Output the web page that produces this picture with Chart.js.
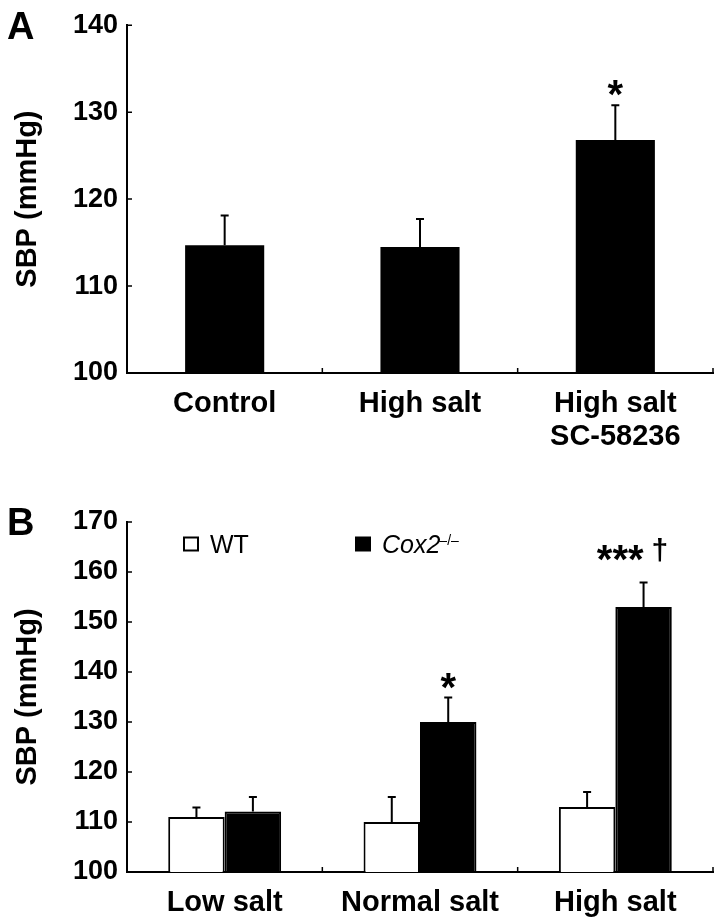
<!DOCTYPE html>
<html>
<head>
<meta charset="utf-8">
<script src="https://cdn.jsdelivr.net/npm/chart.js@4.4.1/dist/chart.umd.min.js"></script>
<style>
  body { margin: 0; background: #fff; }
  #wrap { position: relative; width: 719px; height: 924px; }
  canvas { position: absolute; left: 0; }
  #chartA { top: 0; }
  #chartB { top: 480px; }
</style>
</head>
<body>
<div id="wrap">
  <canvas id="chartA" width="719" height="480"></canvas>
  <canvas id="chartB" width="719" height="444"></canvas>
</div>
<script>
// panel A
const groupsA = [["Control"], ["High salt"], ["High salt", "SC-58236"]];
const meanA = [114.7, 114.5, 126.8];
const errA = [3.4, 3.2, 4.0];
const sigA = ["", "", "*"];
const ticksA = [100, 110, 120, 130, 140];

// panel B
const groupsB = ["Low salt", "Normal salt", "High salt"];
const seriesNames = ["WT", "Cox2"];
const seriesSup = ["", "–/–"];
const meanWT = [111, 110, 113];
const errWT = [1.9, 5, 3];
const meanKO = [112.1, 130, 153];
const errKO = [2.9, 4.9, 4.9];
const sigWT = ["", "", ""];
const sigKO = ["", "*", "***†"];
const ticksB = [100, 110, 120, 130, 140, 150, 160, 170];

const FONT = "'Liberation Sans', Arial, Helvetica, sans-serif";

// error bars (upper half only) + significance marks
const errorBars = {
    id: "errorBars",
    afterDatasetsDraw(chart) {
        const ctx = chart.ctx;
        const yScale = chart.scales.y;
        chart.data.datasets.forEach((ds, di) => {
            const meta = chart.getDatasetMeta(di);
            meta.data.forEach((bar, i) => {
                const top = yScale.getPixelForValue(ds.data[i] + ds.errors[i]);
                ctx.save();
                ctx.strokeStyle = "#000";
                ctx.lineWidth = 2;
                ctx.beginPath();
                ctx.moveTo(bar.x, bar.y);
                ctx.lineTo(bar.x, top);
                ctx.moveTo(bar.x - 4, top);
                ctx.lineTo(bar.x + 4, top);
                ctx.stroke();

                const s = ds.sig[i];
                if (s) {
                    const stars = s.replace(/[^*]/g, "");
                    const rest = s.replace(/\*/g, "");
                    ctx.fillStyle = "#000";
                    ctx.textBaseline = "alphabetic";
                    ctx.font = "bold 40px " + FONT;
                    const base = top - (rest ? 32 : 19) + 22;
                    if (rest) {
                        ctx.textAlign = "right";
                        ctx.fillText(stars, bar.x, base);
                        ctx.font = "bold 30px " + FONT;
                        ctx.textAlign = "left";
                        ctx.fillText(rest, bar.x + 8, base - 13);
                    } else {
                        ctx.textAlign = "center";
                        ctx.fillText(stars, bar.x, base);
                    }
                }
                ctx.restore();
            });
        });
    }
};

// tick marks pointing into the plot
const innerTicks = {
    id: "innerTicks",
    afterDraw(chart) {
        const { ctx, chartArea, scales } = chart;
        ctx.save();
        ctx.strokeStyle = "#000";
        ctx.lineWidth = 1.5;
        ctx.beginPath();
        scales.y.ticks.forEach(t => {
            const py = scales.y.getPixelForValue(t.value);
            ctx.moveTo(chartArea.left, py);
            ctx.lineTo(chartArea.left + 5, py);
        });
        const n = scales.x.ticks.length;
        for (let i = 1; i <= n; i++) {
            const px = scales.x.getPixelForValue(i - 0.5);
            ctx.moveTo(px, chartArea.bottom);
            ctx.lineTo(px, chartArea.bottom - 5);
        }
        ctx.stroke();
        ctx.restore();
    }
};

// big panel letter
const panelLetter = {
    id: "panelLetter",
    afterDraw(chart, args, opts) {
        const ctx = chart.ctx;
        ctx.save();
        ctx.fillStyle = "#000";
        ctx.font = "bold 38px " + FONT;
        ctx.textAlign = "left";
        ctx.textBaseline = "alphabetic";
        ctx.fillText(opts.text, 7, chart.chartArea.top + opts.dy);
        ctx.restore();
    }
};

// legend drawn inside the plot area (panel B)
const innerLegend = {
    id: "innerLegend",
    afterDraw(chart) {
        const { ctx, chartArea } = chart;
        const cy = chartArea.top + 22;
        const slots = [chartArea.left + 56, chartArea.left + 228];
        chart.data.datasets.forEach((ds, i) => {
            const x = slots[i];
            ctx.save();
            ctx.strokeStyle = "#000";
            ctx.fillStyle = "#000";
            ctx.lineWidth = 2;
            if (ds.backgroundColor === "#000") {
                ctx.fillRect(x, cy - 7.5, 16, 15);
            } else {
                ctx.strokeRect(x + 1, cy - 6.5, 14, 13);
            }
            ctx.textAlign = "left";
            ctx.textBaseline = "alphabetic";
            ctx.font = (seriesSup[i] ? "italic " : "") + "25px " + FONT;
            ctx.fillText(ds.label, x + 27, cy + 9);
            if (seriesSup[i]) {
                const w = ctx.measureText(ds.label).width;
                ctx.font = "14px " + FONT;
                ctx.fillText(seriesSup[i], x + 26 + w, cy + 1);
            }
            ctx.restore();
        });
    }
};

function makeOptions(yTicks, xHeight, padTop, letter, letterDy) {
    return {
        responsive: false,
        animation: false,
        layout: { padding: { top: padTop, right: 6, left: 0, bottom: 0 } },
        plugins: {
            legend: { display: false },
            tooltip: { enabled: false },
            panelLetter: { text: letter, dy: letterDy }
        },
        scales: {
            x: {
                grid: { display: false, drawTicks: false },
                border: { display: true, color: "#000", width: 2 },
                ticks: {
                    color: "#000",
                    font: { family: FONT, size: 29, weight: "bold", lineHeight: 1.14 },
                    padding: 14,
                    maxRotation: 0,
                    autoSkip: false
                },
                afterFit: s => { s.height = xHeight; }
            },
            y: {
                min: yTicks[0],
                max: yTicks[yTicks.length - 1],
                grid: { display: false, drawTicks: false },
                border: { display: true, color: "#000", width: 2 },
                afterBuildTicks: s => { s.ticks = yTicks.map(v => ({ value: v })); },
                ticks: {
                    color: "#000",
                    font: { family: FONT, size: 27, weight: "bold" },
                    padding: 9
                },
                title: {
                    display: true,
                    text: "SBP (mmHg)",
                    color: "#000",
                    font: { family: FONT, size: 29, weight: "bold" },
                    padding: { top: 11, bottom: 0 }
                },
                afterFit: s => { s.width = 127; }
            }
        }
    };
}

new Chart(document.getElementById("chartA"), {
    type: "bar",
    data: {
        labels: groupsA,
        datasets: [{
            label: "SBP",
            data: meanA,
            errors: errA,
            sig: sigA,
            backgroundColor: "#000",
            borderColor: "#000",
            borderWidth: 0,
            barPercentage: 0.405,
            categoryPercentage: 1.0
        }]
    },
    options: makeOptions(ticksA, 107, 23, "A", 14),
    plugins: [errorBars, innerTicks, panelLetter]
});

new Chart(document.getElementById("chartB"), {
    type: "bar",
    data: {
        labels: groupsB,
        datasets: [{
            label: seriesNames[0],
            data: meanWT,
            errors: errWT,
            sig: sigWT,
            backgroundColor: "#fff",
            borderColor: "#000",
            borderWidth: 2,
            barPercentage: 1.0,
            categoryPercentage: 0.578
        }, {
            label: seriesNames[1],
            data: meanKO,
            errors: errKO,
            sig: sigKO,
            backgroundColor: "#000",
            borderColor: "#000",
            borderWidth: 2,
            barPercentage: 1.0,
            categoryPercentage: 0.578
        }]
    },
    options: makeOptions(ticksB, 52, 42, "B", 13),
    plugins: [errorBars, innerTicks, panelLetter, innerLegend]
});
</script>
</body>
</html>
